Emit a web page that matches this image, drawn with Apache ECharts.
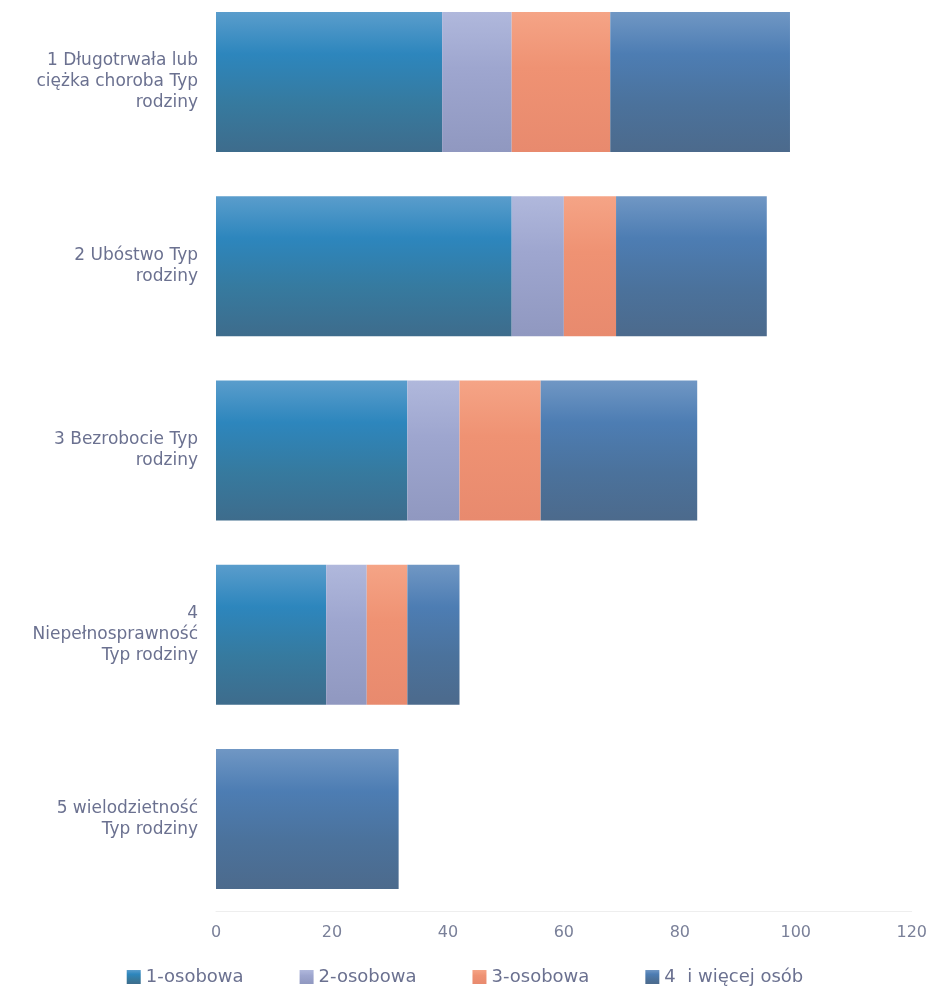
<!DOCTYPE html>
<html>
<head>
<meta charset="utf-8">
<script src="https://cdn.jsdelivr.net/npm/echarts@6/dist/echarts.min.js"></script>
<style>
html,body{margin:0;padding:0;background:#fff;}
#chart{width:930px;height:989px;}
</style>
</head>
<body>
<div id="chart"></div>
<script>
const categories = [
  "1 Długotrwała lub\nciężka choroba Typ\nrodziny",
  "2 Ubóstwo Typ\nrodziny",
  "3 Bezrobocie Typ\nrodziny",
  "4\nNiepełnosprawność\nTyp rodziny",
  "5 wielodzietność\nTyp rodziny"
];
const seriesNames = ["1-osobowa", "2-osobowa", "3-osobowa", "4  i więcej osób"];
const oneperson = [39, 51, 33, 19, 0];
const twoperson = [12, 9, 9, 7, 0];
const threeperson = [17, 9, 14, 7, 0];
const fourplus = [31, 26, 27, 9, 31.5];
const xTicks = { min: 0, max: 120, interval: 20 };

function grad(stops) {
  return new echarts.graphic.LinearGradient(0, 0, 0, 1,
    stops.map(s => ({ offset: s[0], color: s[1] })));
}
const styles = [
  grad([[0, '#5a9dcc'], [0.3, '#2d86bd'], [0.65, '#367a9f'], [1, '#3e6c8c']]),
  grad([[0, '#b0b8dc'], [0.4, '#9ea6cf'], [1, '#9098c0']]),
  grad([[0, '#f5a486'], [0.4, '#ef9273'], [1, '#e88a6e']]),
  grad([[0, '#7097c4'], [0.3, '#4d7db3'], [0.65, '#4b729c'], [1, '#4c6a8c']])
];
const dataSets = [oneperson, twoperson, threeperson, fourplus];

const chart = echarts.init(document.getElementById('chart'));
chart.setOption({
  backgroundColor: '#ffffff',
  animation: false,
  legend: {
    left: 'center',
    top: 963,
    itemWidth: 14,
    itemHeight: 14,
    itemGap: 56,
    icon: 'rect',
    textStyle: { color: '#6b7190', fontSize: 18, fontFamily: 'DejaVu Sans' },
    data: seriesNames
  },
  grid: { left: 216, right: 16, top: 82, bottom: 170, containLabel: false },
  xAxis: {
    type: 'value',
    min: xTicks.min, max: xTicks.max, interval: xTicks.interval,
    offset: 92,
    splitLine: { show: false },
    axisLine: { show: true, lineStyle: { color: '#eeeeee' } },
    axisTick: { show: false },
    axisLabel: { color: '#7a8099', fontSize: 16, margin: 14, fontFamily: 'DejaVu Sans' }
  },
  yAxis: {
    type: 'category',
    inverse: true,
    boundaryGap: false,
    data: categories,
    axisLine: { show: false },
    axisTick: { show: false },
    splitLine: { show: false },
    axisLabel: { color: '#6b7190', fontSize: 17, lineHeight: 21, margin: 18, align: 'right', fontFamily: 'DejaVu Sans' }
  },
  series: seriesNames.map((n, i) => ({
    name: n,
    type: 'bar',
    stack: 'total',
    barWidth: 140,
    clip: false,
    itemStyle: { color: styles[i] },
    data: dataSets[i]
  }))
});
</script>
</body>
</html>
